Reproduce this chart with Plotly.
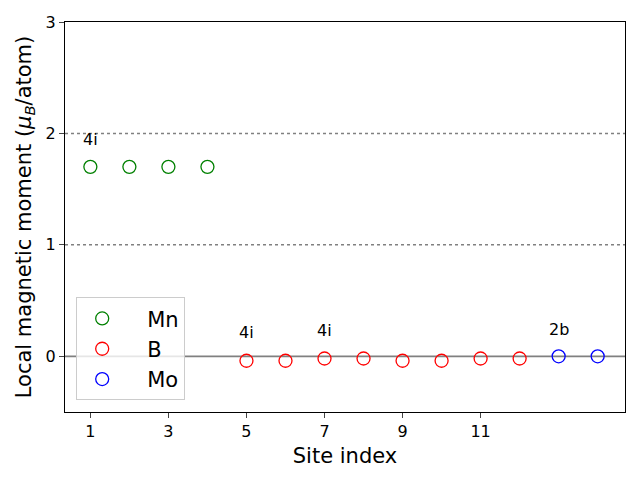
import plotly.graph_objects as go

mn_x = [1, 2, 3, 4]
mn_y = [1.70, 1.70, 1.70, 1.70]
b_x = [5, 6, 7, 8, 9, 10, 11, 12]
b_y = [-0.04, -0.04, -0.02, -0.02, -0.04, -0.04, -0.02, -0.02]
mo_x = [13, 14]
mo_y = [0.0, 0.0]

site_labels = ["4i", "4i", "4i", "2b"]
site_label_x = [1, 5, 7, 13]
site_label_y = [1.95, 0.215, 0.23, 0.24]

x_ticks = [1, 3, 5, 7, 9, 11]
y_ticks = [0, 1, 2, 3]

font = "DejaVu Sans"
fig = go.Figure()

for xs, ys, name, col in [(mn_x, mn_y, "Mn", "green"), (b_x, b_y, "B", "red"), (mo_x, mo_y, "Mo", "blue")]:
    fig.add_trace(go.Scatter(
        x=xs, y=ys, mode="markers", name="&nbsp;&nbsp;&nbsp;" + name,
        marker=dict(symbol="circle-open", size=13, color=col, line=dict(width=1.3, color=col)),
    ))

for yv in [1, 2]:
    fig.add_hline(y=yv, line=dict(color="gray", width=1.5, dash="dot"), layer="below")
fig.add_hline(y=0, line=dict(color="gray", width=1.8), layer="below")

for t, xv, yv in zip(site_labels, site_label_x, site_label_y):
    fig.add_annotation(x=xv, y=yv, text=t, showarrow=False,
                       font=dict(family=font, size=16, color="black"))

fig.update_layout(
    width=640, height=480,
    margin=dict(l=65, r=15, t=22, b=68),
    paper_bgcolor="white", plot_bgcolor="white",
    font=dict(family=font, color="black"),
    showlegend=True,
    legend=dict(x=0.02, y=0.03, xanchor="left", yanchor="bottom",
                bgcolor="rgba(255,255,255,0.8)", bordercolor="#cccccc", borderwidth=1,
                font=dict(family=font, size=21), itemwidth=40, tracegroupgap=0),
    xaxis=dict(range=[0.35, 14.7], tickvals=x_ticks, ticks="outside", ticklen=5,
               showgrid=False, zeroline=False, showline=True, linecolor="black",
               linewidth=1, mirror=True, tickfont=dict(size=16),
               title=dict(text="Site index", font=dict(size=21), standoff=8)),
    yaxis=dict(range=[-0.5, 3], tickvals=y_ticks, ticks="outside", ticklen=5,
               showgrid=False, zeroline=False, showline=True, linecolor="black",
               linewidth=1, mirror=True, tickfont=dict(size=16),
               title=dict(text="Local magnetic moment (<i>μ<sub>B</sub></i>/atom)", font=dict(size=21), standoff=8)),
)

fig.write_html("out.html")
